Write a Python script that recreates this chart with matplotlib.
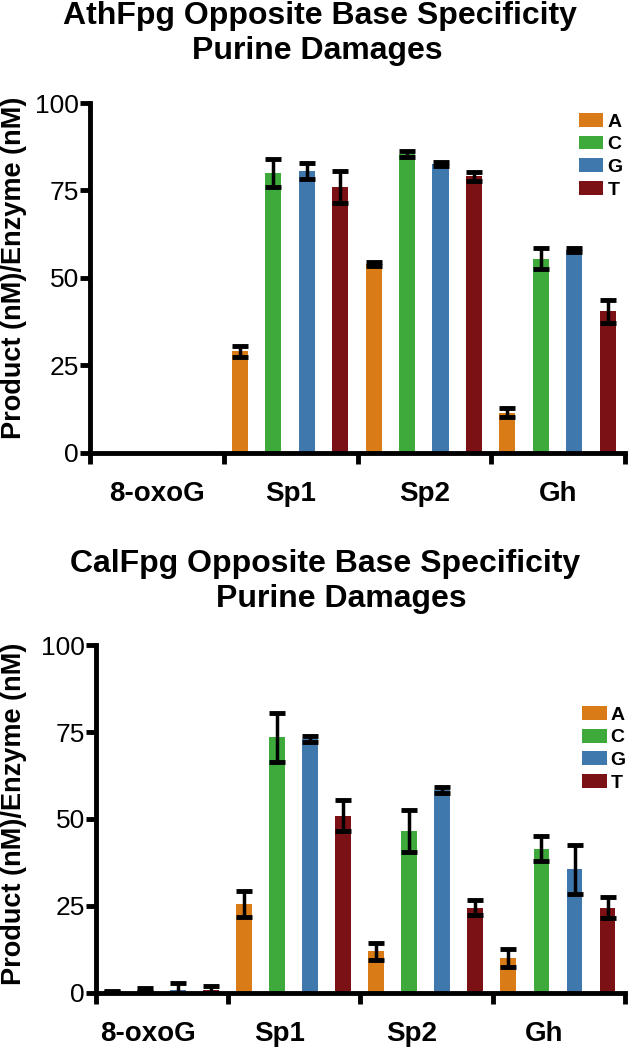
import numpy as np
import matplotlib
matplotlib.use("Agg")
import matplotlib.pyplot as plt
from matplotlib.patches import Patch

plt.rcParams['font.family'] = ['Liberation Sans', 'DejaVu Sans']

damages = ['8-oxoG', 'Sp1', 'Sp2', 'Gh']
bases = ['A', 'C', 'G', 'T']
colors = ['#D97B17', '#3EAA3C', '#3F78AD', '#7B1015']

# AthFpg: rows = damage, cols = opposite base
ath_vals = [[0, 0, 0, 0],
            [29, 80, 80.5, 76],
            [54, 85.5, 82.5, 79],
            [11.5, 55.5, 58, 40.5]]
ath_err = [[0, 0, 0, 0],
           [1.5, 4, 2.3, 4.5],
           [0.6, 0.8, 0.6, 1.2],
           [1.3, 3, 0.6, 3.3]]

# CalFpg
cal_vals = [[0.4, 0.9, 1.0, 1.0],
            [25.5, 73.5, 73, 51],
            [12, 46.5, 58.3, 24.5],
            [10, 41.5, 35.5, 24.5]]
cal_err = [[0.2, 0.6, 1.8, 1.0],
           [3.7, 7, 0.8, 4.5],
           [2.5, 6, 0.8, 2.2],
           [2.6, 3.5, 7, 3]]


def draw(ax, vals, err, ylab_xy, leg_xy, lab_shift=0.0):
    vals = np.array(vals)
    err = np.array(err)
    for k, b in enumerate(bases):
        x = np.arange(len(damages)) + (k + 0.48) / 4
        h = vals[:, k]
        ax.bar(x, h, width=0.12, color=colors[k], zorder=2)
        show = h > 0
        ax.errorbar(x[show], h[show], yerr=err[show, k], fmt='none',
                    ecolor='black', elinewidth=2.5, capsize=5.5, capthick=3.5, zorder=3)
    ax.set_xlim(0, 4)
    ax.set_ylim(0, 100)
    ax.set_yticks([0, 25, 50, 75, 100])
    ax.set_yticklabels(['0', '25', '50', '75', '100'],
                       family=['Liberation Sans Narrow', 'Liberation Sans'], fontsize=19)
    ax.set_xticks([0, 1, 2, 3, 4])
    ax.set_xticklabels([])
    ax.set_xticks(np.arange(4) + 0.5 + lab_shift, minor=True)
    ax.set_xticklabels(damages, minor=True, fontsize=20, fontweight='bold')
    ax.tick_params(axis='x', which='minor', length=0, pad=20)
    ax.tick_params(axis='x', which='major', length=8, width=3.5, direction='out')
    ax.tick_params(axis='y', length=7, width=3.5, pad=1)
    for s in ['top', 'right']:
        ax.spines[s].set_visible(False)
    for s in ['left', 'bottom']:
        ax.spines[s].set_linewidth(3.5)
    ax.set_ylabel('Product (nM)/Enzyme (nM)', fontsize=19.5, fontweight='bold')
    ax.yaxis.set_label_coords(*ylab_xy)
    handles = [Patch(facecolor=c, label=b) for c, b in zip(colors, bases)]
    ax.legend(handles=handles, loc='upper left', bbox_to_anchor=leg_xy,
              frameon=False, borderpad=0, borderaxespad=0,
              handlelength=1.25, handleheight=0.72,
              handletextpad=0.2, labelspacing=0.26,
              prop={'weight': 'bold', 'size': 14})


fig = plt.figure(figsize=(6.34, 10.5), dpi=100)
ax1 = fig.add_axes([0.142, 0.5686, 0.844, 0.3333])
ax2 = fig.add_axes([0.1514, 0.0543, 0.834, 0.3314])

draw(ax1, ath_vals, ath_err, (-0.118, 0.53), (0.914, 0.972))
draw(ax2, cal_vals, cal_err, (-0.13, 0.514), (0.92, 0.825), lab_shift=-0.11)

title_kw = dict(ha='center', va='center', fontsize=23, fontweight='bold')
fig.text(320 / 634, 1 - 16 / 1050, 'AthFpg Opposite Base Specificity', **title_kw)
fig.text(317 / 634, 1 - 51 / 1050, 'Purine Damages', **title_kw)
fig.text(325 / 634, 1 - 564 / 1050, 'CalFpg Opposite Base Specificity', **title_kw)
fig.text(341 / 634, 1 - 599 / 1050, 'Purine Damages', **title_kw)

fig.savefig('out.png', dpi=100)
